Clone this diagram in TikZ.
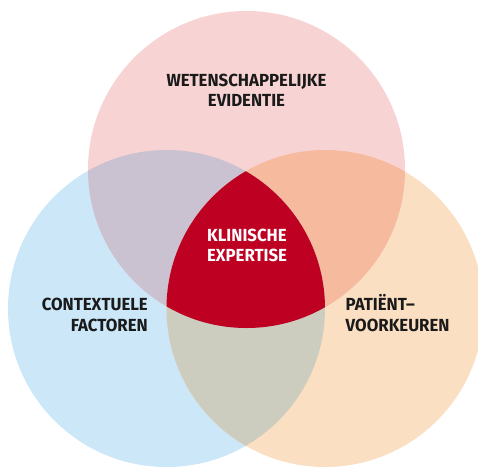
\documentclass[tikz,border=0pt]{standalone}
\usepackage{fontspec}
\setmainfont{Fira Sans}[FakeStretch=0.96]
\definecolor{cpink}{HTML}{F8D3D3}
\definecolor{cblue}{HTML}{CBE7F8}
\definecolor{corange}{HTML}{FBDFC3}
\definecolor{cpb}{HTML}{CAC2D0}
\definecolor{cpo}{HTML}{F6BA9E}
\definecolor{cbo}{HTML}{CCCDBF}
\definecolor{cred}{HTML}{BE0023}
\definecolor{ctext}{HTML}{1A1A1A}
\tikzset{
  lbl/.style={font=\fontsize{17.5}{20.5}\selectfont\bfseries, text=ctext, inner sep=0pt, anchor=base},
}
\begin{document}
\begin{tikzpicture}[x=1pt,y=-1pt]
\useasboundingbox (0,0) rectangle (478,466);
\clip (0,0) rectangle (478,466);
\def\R{158.5}
\coordinate (T) at (246.5,169.5);
\coordinate (L) at (166.5,308.5);
\coordinate (Rc) at (325,308.5);
\fill[cblue] (L) circle (\R);
\fill[corange] (Rc) circle (\R);
\fill[cpink] (T) circle (\R);
\begin{scope}
  \clip (T) circle (\R);
  \fill[cpb] (L) circle (\R);
  \fill[cpo] (Rc) circle (\R);
\end{scope}
\begin{scope}
  \clip (L) circle (\R);
  \fill[cbo] (Rc) circle (\R);
  \clip (T) circle (\R);
  \fill[cred] (Rc) circle (\R);
\end{scope}
\node[lbl, align=center] (top) at (246.5,106.7) {WETENSCHAPPELIJKE\\EVIDENTIE};
\node[lbl, align=center, text=white] (mid) at (247,261.7) {KLINISCHE\\EXPERTISE};
\node[lbl, align=right, anchor=base east] (left) at (148,331) {CONTEXTUELE\\FACTOREN};
\node[lbl, align=left, anchor=base west] (right) at (345.5,331) {PATIËNT–\\VOORKEUREN};
\end{tikzpicture}
\end{document}
